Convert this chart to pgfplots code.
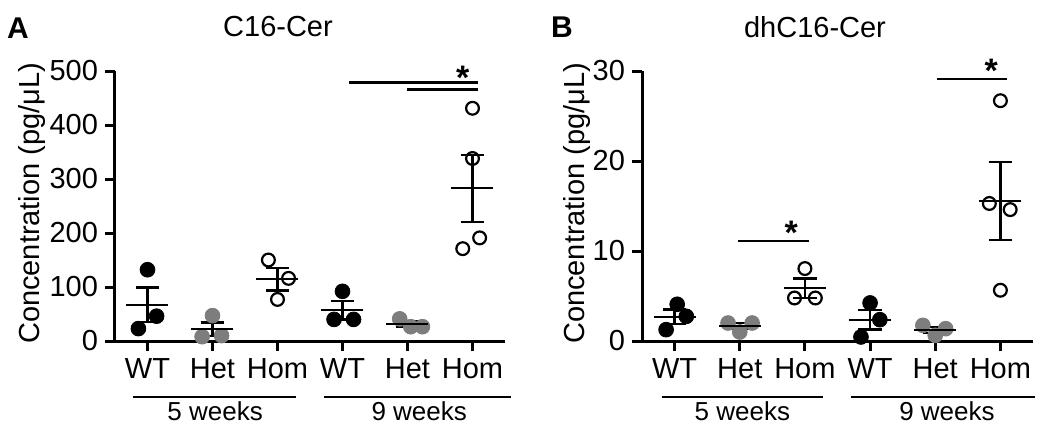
\documentclass[border=0pt]{standalone}
\usepackage{fontspec}
\setmainfont{Liberation Sans}
\usepackage{pgfplots}
\pgfplotsset{compat=1.18}

\definecolor{hetgray}{RGB}{125,125,125}

\pgfplotsset{
  dotplot/.style={
    scale only axis, width=195pt, height=135pt,
    axis lines=left, axis line style={-, line width=1.5pt},
    xmin=0.5, xmax=6.5, ymin=0,
    xtick={1,...,6}, xticklabels={WT,Het,Hom,WT,Het,Hom},
    tick align=outside, major tick length=5pt,
    tick style={line width=1.5pt, black},
    every tick label/.append style={font=\fontsize{14.5}{17}\selectfont},
    label style={font=\fontsize{14.5}{17}\selectfont},
    /pgf/number format/assume math mode=true,
    clip=false,
  },
  wt/.style={only marks, mark=*, mark size=3.7pt, mark options={draw=black, fill=black}},
  het/.style={only marks, mark=*, mark size=3.7pt, mark options={draw=hetgray, fill=hetgray}},
  hom/.style={only marks, mark=o, mark size=3.2pt, mark options={draw=black, fill=white, line width=1.1pt}},
  meanline/.style={only marks, mark=-, mark size=10.5pt, mark options={line width=1.2pt, black}},
  semline/.style={draw=none, mark=none,
    error bars/.cd, y dir=both, y explicit, error mark=|,
    error bar style={draw=black, line width=1.2pt},
    error mark options={draw=black, line width=1.2pt, mark size=5.9pt}},
  sig/.style={black, line width=1.2pt, mark=none},
}

\begin{document}
\begin{tikzpicture}
\useasboundingbox (0,0) rectangle (525pt,212.5pt);

% panel A
\begin{axis}[dotplot, at={(57.5pt,42pt)}, anchor=south west,
  ymax=500, ytick={0,100,...,500},
  ylabel={Concentration (pg/μL)},
  ylabel style={at={(axis description cs:-0.213,0.51)}, anchor=center}]
\addplot[wt] coordinates {(0.86,23) (1.00,132) (1.14,46)};
\addplot[het] coordinates {(1.84,8) (2.00,47) (2.14,10)};
\addplot[hom] coordinates {(2.86,150) (3.17,116) (3.00,77)};
\addplot[wt] coordinates {(3.87,40) (4.00,92) (4.17,40)};
\addplot[het] coordinates {(4.88,41) (5.05,26.5) (5.23,26.5)};
\addplot[hom] coordinates {(6.00,431) (6.00,338) (6.11,191) (5.85,171)};
\addplot[semline] coordinates {(1,67) +- (0,32) (2,21.7) +- (0,12.7) (3,114.3) +- (0,21.1)
  (4,57.3) +- (0,17.3) (5,31.2) +- (0,4.7) (6,282.8) +- (0,61.9)};
\addplot[meanline] coordinates {(1,67) (2,21.7) (3,114.3) (4,57.3) (5,31.2) (6,282.8)};
\addplot[sig] coordinates {(4.10,479) (6.08,479)};
\addplot[sig] coordinates {(5.00,466) (6.08,466)};
\node[anchor=base, yshift=-9.9pt, font=\fontsize{17}{20}\selectfont\bfseries] at (axis cs:5.85,502) {*};
\draw[line width=1pt] (axis cs:0.78,-104) -- (axis cs:3.29,-104);
\draw[line width=1pt] (axis cs:3.71,-104) -- (axis cs:6.59,-104);
\node[font=\fontsize{13}{15}\selectfont] at (axis cs:2.04,-130) {5 weeks};
\node[font=\fontsize{13}{15}\selectfont] at (axis cs:5.18,-130) {9 weeks};
\end{axis}

% panel B
\begin{axis}[dotplot, at={(321pt,42pt)}, anchor=south west, width=195.5pt,
  ymax=30, ytick={0,10,20,30},
  ylabel={Concentration (pg/μL)},
  ylabel style={at={(axis description cs:-0.166,0.51)}, anchor=center}]
\addplot[wt] coordinates {(1.04,4.08) (1.18,2.74) (0.87,1.26)};
\addplot[het] coordinates {(1.82,2.0) (2.19,2.0) (2.00,1.0)};
\addplot[hom] coordinates {(3.00,8.05) (2.84,4.78) (3.16,4.78)};
\addplot[wt] coordinates {(4.00,4.23) (4.15,2.37) (3.86,0.45)};
\addplot[het] coordinates {(4.81,1.74) (5.16,1.37) (5.00,0.63)};
\addplot[hom] coordinates {(6.00,26.7) (5.83,15.28) (6.15,14.6) (6.00,5.64)};
\addplot[semline] coordinates {(1,2.69) +- (0,0.81) (2,1.67) +- (0,0.33) (3,5.87) +- (0,1.09)
  (4,2.35) +- (0,1.09) (5,1.25) +- (0,0.33) (6,15.56) +- (0,4.32)};
\addplot[meanline] coordinates {(1,2.69) (2,1.67) (3,5.87) (4,2.35) (5,1.25) (6,15.56)};
\addplot[sig] coordinates {(1.97,11.1) (3.07,11.1)};
\addplot[sig] coordinates {(5.03,29.1) (6.10,29.1)};
\node[anchor=base, yshift=-9.9pt, font=\fontsize{17}{20}\selectfont\bfseries] at (axis cs:2.79,12.9) {*};
\node[anchor=base, yshift=-9.9pt, font=\fontsize{17}{20}\selectfont\bfseries] at (axis cs:5.86,30.9) {*};
\draw[line width=1pt] (axis cs:0.80,-6.22) -- (axis cs:3.28,-6.22);
\draw[line width=1pt] (axis cs:3.70,-6.22) -- (axis cs:6.53,-6.22);
\node[font=\fontsize{13}{15}\selectfont] at (axis cs:2.04,-7.8) {5 weeks};
\node[font=\fontsize{13}{15}\selectfont] at (axis cs:5.18,-7.8) {9 weeks};
\end{axis}

% titles and panel letters
\node[font=\fontsize{14.5}{17}\selectfont] at (139pt,199pt) {C16-Cer};
\node[font=\fontsize{14.5}{17}\selectfont] at (407.5pt,199pt) {dhC16-Cer};
\node[font=\fontsize{15}{18}\selectfont\bfseries] at (9pt,198.5pt) {A};
\node[font=\fontsize{15}{18}\selectfont\bfseries] at (281pt,199pt) {B};
\end{tikzpicture}
\end{document}
